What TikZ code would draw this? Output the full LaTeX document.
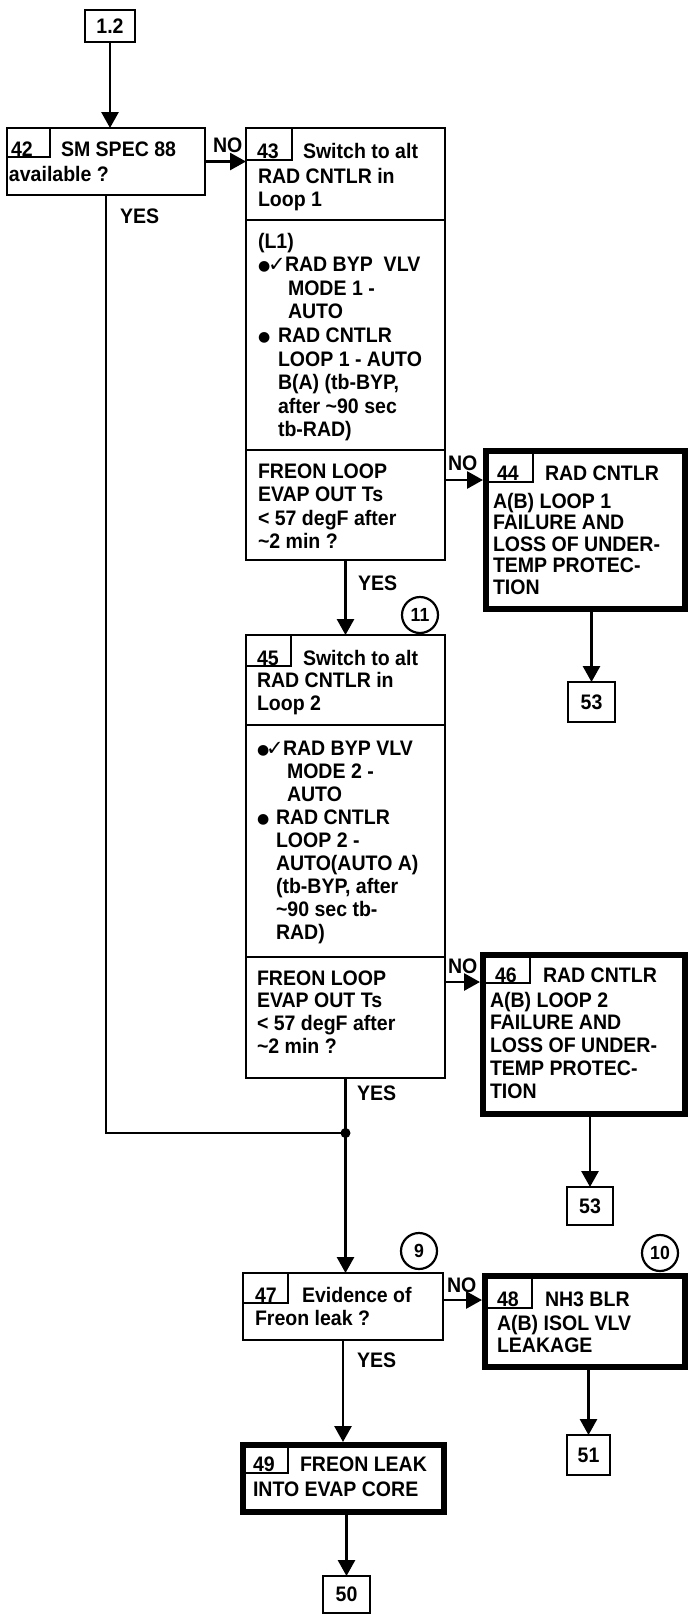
\documentclass[tikz,border=0pt]{standalone}
\usepackage{fontspec}
\setmainfont{Liberation Sans}[FakeStretch=0.93]
\newfontfamily\sym{DejaVu Sans}
\usetikzlibrary{arrows.meta}
\newcommand\ml[2][23.3pt]{\vtop{\baselineskip=#1\relax\lineskiplimit=-100pt\halign{##\hfil\cr#2\crcr}}}
\newcommand\ck{\makebox[17pt][l]{\sym\mdseries\fontsize{21}{21}\selectfont ✓}}
\newcommand\bu[1]{\makebox[#1][l]{\raisebox{1pt}{\sym\fontsize{14}{14}\selectfont ●}}}
\newcommand\tld{\textasciitilde}
\tikzset{
  box/.style={draw, line width=2.8pt, inner sep=0pt, outer sep=0pt, anchor=north west},
  tbox/.style={box, line width=6pt},
  nbox/.style={draw, line width=1.6pt, inner sep=0pt, outer sep=0pt, anchor=north west},
  txt/.style={inner sep=0pt, outer sep=0pt, anchor=base west},
  arr/.style={line width=2.8pt, -{Triangle[width=17pt,length=16pt]}},
  ln/.style={line width=2.8pt},
  circ/.style={draw, circle, line width=2.2pt, minimum size=36pt, inner sep=0pt, font=\fontsize{19}{19}\selectfont\bfseries}
}
\begin{document}
\begin{tikzpicture}[x=1pt,y=-1pt, font=\fontsize{21}{23.3}\selectfont\bfseries]
\useasboundingbox (0,0) rectangle (689,1615);

% 1.2
\node[box, minimum width=50pt, minimum height=32pt] (n12) at (85,10) {1.2};

% 42
\node[box, minimum width=198pt, minimum height=67pt] (b42) at (7,128) {};
\node[nbox, minimum width=43pt, minimum height=29pt] (k42) at (7,128) {};
\node[txt] (t42n) at (11,156) {42};
\node[txt] (t42h) at (61,156) {SM SPEC 88};
\node[txt] (t42b) at (9,181) {available ?};

% 43
\node[box, minimum width=199pt, minimum height=92pt] (b43a) at (246,128) {};
\node[box, minimum width=199pt, minimum height=230pt] (b43b) at (246,220) {};
\node[box, minimum width=199pt, minimum height=110pt] (b43c) at (246,450) {};
\node[nbox, minimum width=46pt, minimum height=32pt] (k43) at (246,128) {};
\node[txt] (t43n) at (257,158) {43};
\node[txt] (t43h) at (303,158) {Switch to alt};
\node[txt] (t43b) at (258,183) {\ml[23.6pt]{RAD CNTLR in\cr Loop 1}};
\node[txt] (t43c) at (258,248) {\ml[23.6pt]{(L1)\cr
 \bu{10pt}\ck RAD BYP\ \ VLV\cr
 \kern30pt MODE 1 -\cr
 \kern30pt AUTO\cr
 \bu{20pt}RAD CNTLR\cr
 \kern20pt LOOP 1 - AUTO\cr
 \kern20pt B(A) (tb-BYP,\cr
 \kern20pt after \tld90 sec\cr
 \kern20pt tb-RAD)}};
\node[txt] (t43d) at (258,478) {\ml[23.6pt]{FREON LOOP\cr EVAP OUT Ts\cr < 57 degF after\cr \tld2 min ?}};

% 44
\node[tbox, minimum width=199pt, minimum height=158pt] (b44) at (486,451) {};
\node[nbox, minimum width=47pt, minimum height=31pt] (k44) at (486,451) {};
\node[txt] (t44n) at (497,480) {44};
\node[txt] (t44h) at (545,480) {RAD CNTLR};
\node[txt] (t44b) at (493,508) {\ml[21.5pt]{A(B) LOOP 1\cr FAILURE AND\cr LOSS OF UNDER-\cr TEMP PROTEC-\cr TION}};
\node[box, minimum width=47pt, minimum height=40pt] (n53a) at (568,682) {53};

% 45
\node[box, minimum width=199pt, minimum height=90pt] (b45a) at (246,635) {};
\node[box, minimum width=199pt, minimum height=232pt] (b45b) at (246,725) {};
\node[box, minimum width=199pt, minimum height=121pt] (b45c) at (246,957) {};
\node[nbox, minimum width=45pt, minimum height=31pt] (k45) at (246,635) {};
\node[txt] (t45n) at (257,665) {45};
\node[txt] (t45h) at (303,665) {Switch to alt};
\node[txt] (t45b) at (257,687) {\ml[23pt]{RAD CNTLR in\cr Loop 2}};
\node[txt] (t45c) at (257,755) {\ml[23.1pt]{\bu{9pt}\ck RAD BYP VLV\cr
 \kern30pt MODE 2 -\cr
 \kern30pt AUTO\cr
 \bu{19pt}RAD CNTLR\cr
 \kern19pt LOOP 2 -\cr
 \kern19pt AUTO(AUTO A)\cr
 \kern19pt (tb-BYP, after\cr
 \kern19pt \tld90 sec tb-\cr
 \kern19pt RAD)}};
\node[txt] (t45d) at (257,985) {\ml[22.7pt]{FREON LOOP\cr EVAP OUT Ts\cr < 57 degF after\cr \tld2 min ?}};
\node[circ] (c11) at (420,615) {11};

% 46
\node[tbox, minimum width=202pt, minimum height=159pt] (b46) at (483,955) {};
\node[nbox, minimum width=47pt, minimum height=28pt] (k46) at (483,955) {};
\node[txt] (t46n) at (495,982) {46};
\node[txt] (t46h) at (543,982) {RAD CNTLR};
\node[txt] (t46b) at (490,1007) {\ml[22.75pt]{A(B) LOOP 2\cr FAILURE AND\cr LOSS OF UNDER-\cr TEMP PROTEC-\cr TION}};
\node[box, minimum width=46pt, minimum height=38pt] (n53b) at (567,1187) {53};

% 47
\node[box, minimum width=200pt, minimum height=67pt] (b47) at (243,1273) {};
\node[nbox, minimum width=45pt, minimum height=30pt] (k47) at (243,1273) {};
\node[txt] (t47n) at (255,1302) {47};
\node[txt] (t47h) at (302,1302) {Evidence of};
\node[txt] (t47b) at (255,1325) {Freon leak ?};
\node[circ] (c9) at (419,1251) {9};

% 48
\node[tbox, minimum width=200pt, minimum height=91pt] (b48) at (485,1276) {};
\node[nbox, minimum width=47pt, minimum height=32pt] (k48) at (485,1276) {};
\node[txt] (t48n) at (497,1306) {48};
\node[txt] (t48h) at (545,1306) {NH3 BLR};
\node[txt] (t48b) at (497,1330) {\ml[22pt]{A(B) ISOL VLV\cr LEAKAGE}};
\node[circ] (c10) at (660,1253) {10};
\node[box, minimum width=43pt, minimum height=40pt] (n51) at (567,1435) {51};

% 49
\node[tbox, minimum width=201pt, minimum height=67pt] (b49) at (243,1445) {};
\node[nbox, minimum width=45pt, minimum height=28pt] (k49) at (243,1445) {};
\node[txt] (t49n) at (253,1471) {49};
\node[txt] (t49h) at (300,1471) {FREON LEAK};
\node[txt] (t49b) at (253,1496) {INTO EVAP CORE};
\node[box, minimum width=47pt, minimum height=37pt] (n50) at (323,1576) {50};

% labels
\node[txt] (l1) at (213,152) {NO};
\node[txt] (l2) at (120,223) {YES};
\node[txt] (l3) at (448,470) {NO};
\node[txt] (l4) at (358,590) {YES};
\node[txt] (l5) at (448,973) {NO};
\node[txt] (l6) at (357,1100) {YES};
\node[txt] (l7) at (447,1292) {NO};
\node[txt] (l8) at (357,1367) {YES};

% connectors
\coordinate (j) at (345.5,1133);
\coordinate (a44) at (483,480);
\coordinate (a46) at (480,982);
\coordinate (a48) at (482,1300);
\draw[arr] (n12.south) -- (n12.south |- b42.north);
\draw[arr] (b42.east) -- (b43a.west |- b42.east);
\draw[ln] (b42.south) |- (j);
\draw[arr] (b43c.south) -- (b45a.north);
\draw[arr] (b43c.east |- a44) -- (a44);
\draw[arr] (n53a.north |- b44.south) -- (n53a.north);
\draw[arr] (b45c.east |- a46) -- (a46);
\draw[arr] (n53b.north |- b46.south) -- (n53b.north);
\draw[ln] (b45c.south) -- (j);
\fill (j) circle (5pt);
\draw[arr] (j) -- (j |- b47.north);
\draw[arr] (b47.east |- a48) -- (a48);
\draw[arr] (n51.north |- b48.south) -- (n51.north);
\draw[arr, shorten >=3pt] (b47.south) -- (b47.south |- b49.north);
\draw[arr] (n50.north |- b49.south) -- (n50.north);
\end{tikzpicture}
\end{document}
